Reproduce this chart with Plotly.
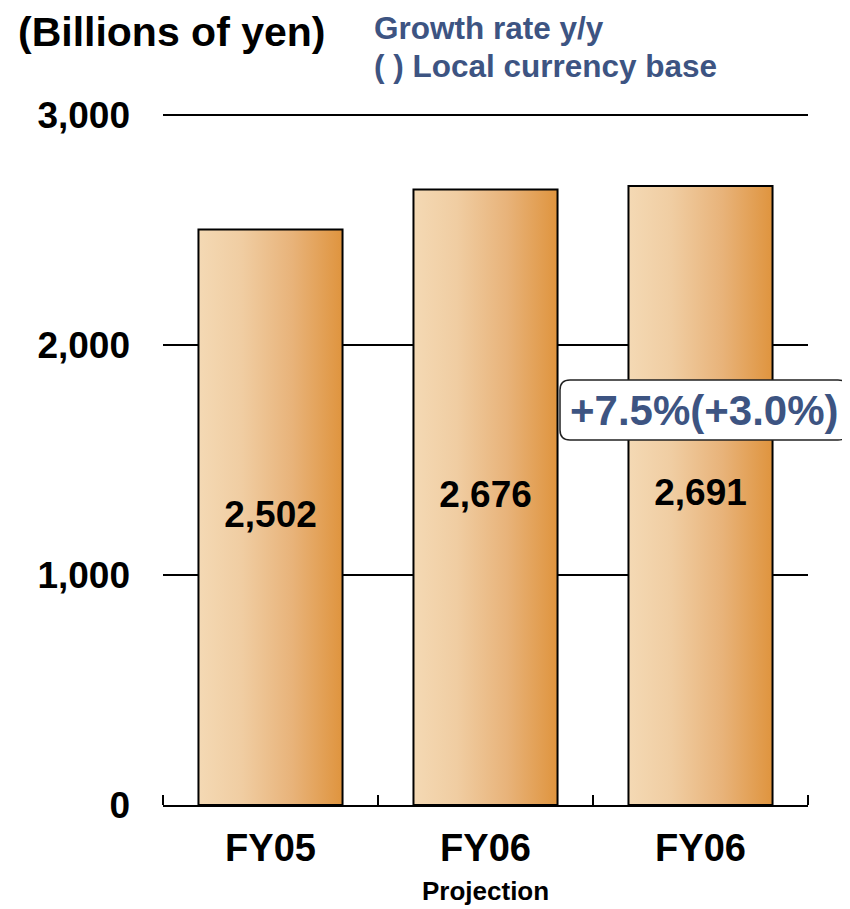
import plotly.graph_objects as go

# ---- data ----
categories = ["FY05", "FY06", "FY06"]
sales = [2502, 2676, 2691]
value_labels = ["2,502", "2,676", "2,691"]
y_ticks = [0, 1000, 2000, 3000]
growth_label = "+7.5%(+3.0%)"
subtitle_lines = ["Growth rate y/y", "( ) Local currency base"]
unit_label = "(Billions of yen)"
sub_category = "Projection"

FONT = "Liberation Sans, Arial, sans-serif"
BLUE = "#3D5482"
BAR_W = 0.67
GRAD = [[0.0, "#F4D9B4"], [0.3, "#F0CDA2"], [0.65, "#E8B37A"], [1.0, "#DF943E"]]

OFF = 8  # page body margin
W, H = 850 - OFF, 909 - OFF
L, R, T, B = 163 - OFF, 42, 100, 104
PW, PH = W - L - R, H - T - B
Y_TOP = 3000 * PH / 690.0  # keeps 0..3000 spanning page px 805..115


def px_x(px):
    return (px - OFF - L) / PW


def px_y(py):
    return (H - B - (py - OFF)) / PH


fig = go.Figure()

for i, (cat, v) in enumerate(zip(categories, sales)):
    x0, x1 = i - BAR_W / 2, i + BAR_W / 2
    fig.add_trace(go.Scatter(
        x=[x0, x0, x1, x1, x0], y=[0, v, v, 0, 0],
        mode="lines", fill="toself",
        fillgradient=dict(type="horizontal", colorscale=GRAD),
        line=dict(color="black", width=2),
        hoverinfo="skip", showlegend=False,
    ))

fig.add_trace(go.Scatter(
    x=list(range(len(sales))), y=[v / 2 for v in sales],
    mode="text", text=value_labels,
    textfont=dict(family=FONT, size=37, color="black", weight="bold"),
    showlegend=False, hoverinfo="skip",
))

fig.update_layout(
    width=W, height=H,
    margin=dict(l=L, r=R, t=T, b=B),
    paper_bgcolor="white", plot_bgcolor="white",
    showlegend=False,
    xaxis=dict(
        range=[-0.5, len(categories) - 0.5],
        tickvals=list(range(len(categories))), ticktext=categories,
        ticks="", showgrid=False, zeroline=False,
        showline=True, linecolor="black", linewidth=2,
        tickfont=dict(family=FONT, size=38, color="black", weight="bold"),
        ticklabelstandoff=8,
        minor=dict(tickmode="array",
                   tickvals=[i - 0.5 for i in range(len(categories) + 1)],
                   ticks="inside", ticklen=10, tickcolor="black", tickwidth=2,
                   showgrid=False),
    ),
    yaxis=dict(
        range=[0, Y_TOP], tickvals=y_ticks,
        ticktext=[f"{t:,}" for t in y_ticks],
        showgrid=True, gridcolor="black", gridwidth=1.5,
        zeroline=False, showline=False, ticks="",
        tickfont=dict(family=FONT, size=37, color="black", weight="bold"),
        ticklabelstandoff=32,
    ),
)

# rounded callout box behind the growth label
bx0, bx1, by0, by1, rad = px_x(560), px_x(848), px_y(440), px_y(380), 10
rx, ry = rad / PW, rad / PH
path = (f"M {bx0 + rx},{by0} L {bx1 - rx},{by0} Q {bx1},{by0} {bx1},{by0 + ry} "
        f"L {bx1},{by1 - ry} Q {bx1},{by1} {bx1 - rx},{by1} "
        f"L {bx0 + rx},{by1} Q {bx0},{by1} {bx0},{by1 - ry} "
        f"L {bx0},{by0 + ry} Q {bx0},{by0} {bx0 + rx},{by0} Z")
fig.add_shape(type="path", path=path, xref="paper", yref="paper",
              fillcolor="white", line=dict(color="#222222", width=1.5), layer="above")

annotations = [
    dict(x=px_x(16), y=px_y(32), xref="paper", yref="paper",
         xanchor="left", yanchor="middle", text=unit_label, showarrow=False,
         font=dict(family=FONT, size=41, color="black", weight="bold")),
    dict(x=px_x(372), y=px_y(28), xref="paper", yref="paper",
         xanchor="left", yanchor="middle", text=subtitle_lines[0], showarrow=False,
         font=dict(family=FONT, size=31.5, color=BLUE, weight="bold")),
    dict(x=px_x(372), y=px_y(66), xref="paper", yref="paper",
         xanchor="left", yanchor="middle", text=subtitle_lines[1], showarrow=False,
         font=dict(family=FONT, size=31.5, color=BLUE, weight="bold")),
    dict(x=1, y=px_y(891), xref="x", yref="paper",
         xanchor="center", yanchor="middle", text=sub_category, showarrow=False,
         font=dict(family=FONT, size=26, color="black", weight="bold")),
    dict(x=(bx0 + bx1) / 2, y=(by0 + by1) / 2, xref="paper", yref="paper",
         xanchor="center", yanchor="middle", text=growth_label, showarrow=False,
         font=dict(family=FONT, size=42, color=BLUE, weight="bold")),
]
fig.update_layout(annotations=annotations)

fig.write_html("out.html")
